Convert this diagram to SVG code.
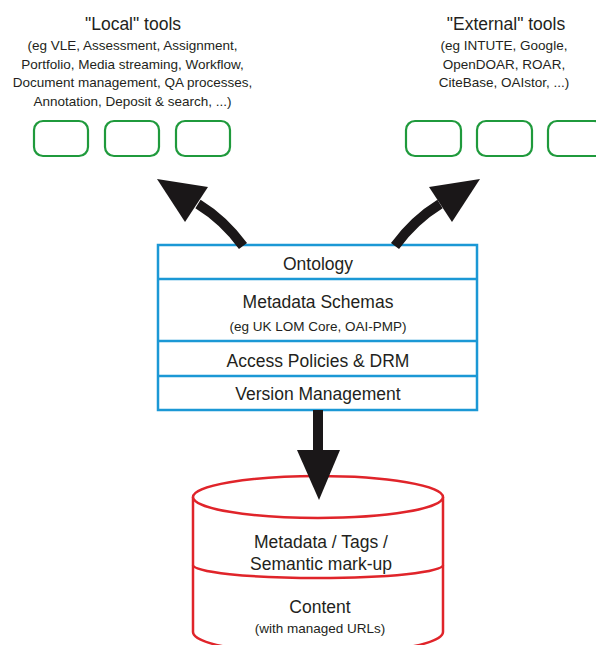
<svg xmlns="http://www.w3.org/2000/svg" width="596" height="645" viewBox="0 0 596 645">
<style>
text{font-family:"Liberation Sans",Arial,sans-serif;fill:#231f20;text-anchor:middle}
.big{font-size:17.5px}
.small{font-size:13.5px}
.tool{fill:#fff;stroke:#1f9a3c;stroke-width:2.2}
.layer{fill:#fff;stroke:#1b98d5;stroke-width:2.5}
.cyl{fill:#fff;stroke:#e0242a;stroke-width:2.5}
.shaft{fill:none;stroke:#1a1718;stroke-width:10}
.head{fill:#1a1718}
</style>
<rect width="596" height="645" fill="#fff"/>
<g id="local-tools">
<text class="big" x="133" y="30">"Local" tools</text>
<text class="small" x="132.5" y="50">(eg VLE, Assessment, Assignment,</text>
<text class="small" x="132.5" y="68.5">Portfolio, Media streaming, Workflow,</text>
<text class="small" x="132.5" y="87">Document management, QA processes,</text>
<text class="small" x="132.5" y="105.5">Annotation, Deposit &amp; search, ...)</text>
<rect class="tool" x="34" y="121" width="54" height="35" rx="9"/>
<rect class="tool" x="105" y="121" width="54" height="35" rx="9"/>
<rect class="tool" x="176" y="121" width="54" height="35" rx="9"/>
</g>
<g id="external-tools">
<text class="big" x="506" y="30">"External" tools</text>
<text class="small" x="504" y="50">(eg INTUTE, Google,</text>
<text class="small" x="504" y="68.5">OpenDOAR, ROAR,</text>
<text class="small" x="504" y="87">CiteBase, OAIstor, ...)</text>
<rect class="tool" x="406" y="121" width="55" height="35" rx="9"/>
<rect class="tool" x="477" y="121" width="55" height="35" rx="9"/>
<rect class="tool" x="548" y="121" width="55" height="35" rx="9"/>
</g>
<g id="layers">
<rect class="layer" x="158" y="245" width="319" height="165"/>
<line class="layer" x1="158" y1="279" x2="477" y2="279"/>
<line class="layer" x1="158" y1="341" x2="477" y2="341"/>
<line class="layer" x1="158" y1="376" x2="477" y2="376"/>
<text class="big" x="318" y="270">Ontology</text>
<text class="big" x="318" y="308">Metadata Schemas</text>
<text class="small" x="318" y="331">(eg UK LOM Core, OAI-PMP)</text>
<text class="big" x="318" y="367">Access Policies &amp; DRM</text>
<text class="big" x="318" y="400">Version Management</text>
</g>
<g id="repository">
<path class="cyl" d="M193,497 L193,632 A125,22 0 0 0 443,632 L443,497"/>
<ellipse class="cyl" cx="318" cy="497" rx="125" ry="21"/>
<path class="cyl" fill="none" d="M193,565 A125,13 0 0 0 443,565"/>
<text class="big" x="321" y="548">Metadata / Tags /</text>
<text class="big" x="321" y="570">Semantic mark-up</text>
<text class="big" x="320" y="613">Content</text>
<text class="small" x="320" y="633">(with managed URLs)</text>
</g>
<g id="connectors">
<path class="shaft" d="M243,246 Q224,220 198,204"/>
<polygon class="head" points="157,179 208,187 185,222"/>
<path class="shaft" d="M395,246 Q414,220 440,204"/>
<polygon class="head" points="480,179 429,187 452,222"/>
<rect class="head" x="313" y="410" width="10" height="42"/>
<polygon class="head" points="297,450 340,450 319,500"/>
</g>
</svg>
